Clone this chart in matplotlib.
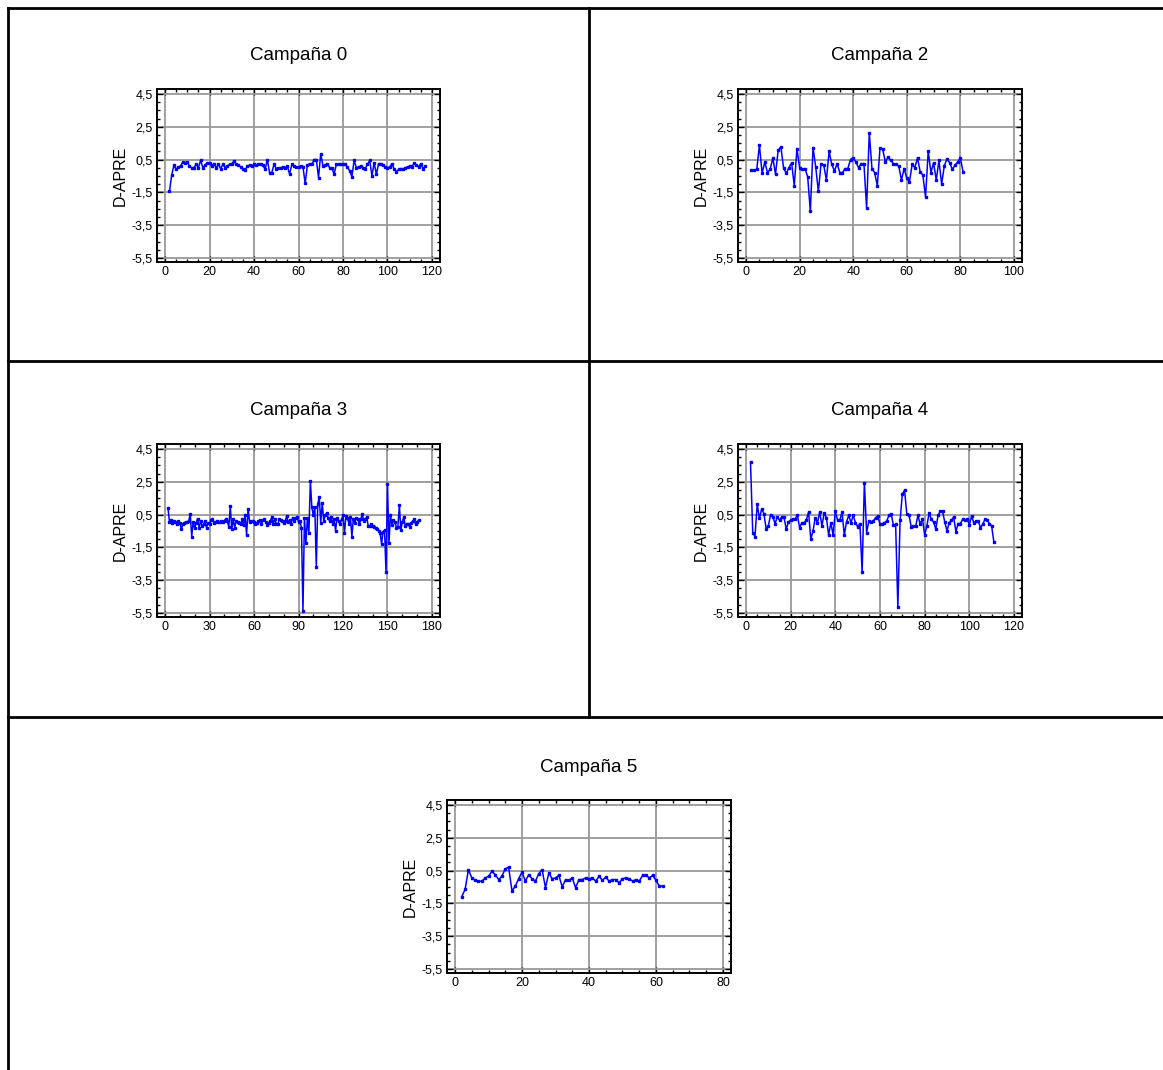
import numpy as np
import matplotlib
matplotlib.use("Agg")
import matplotlib.pyplot as plt
from matplotlib.lines import Line2D
from matplotlib.ticker import MultipleLocator, FixedLocator, FuncFormatter

plt.rcParams['font.family'] = ['Liberation Sans', 'DejaVu Sans']

# ---------------- data ----------------
titles = ["Campaña 0", "Campaña 2", "Campaña 3", "Campaña 4", "Campaña 5"]
ylabel = "D-APRE"
yticks = [-5.5, -3.5, -1.5, 0.5, 2.5, 4.5]

x_start = 2

camp0 = [-1.45, -0.45, 0.15, -0.1, 0.05, 0.1, 0.35, 0.3, 0.35, 0.1,
         0.0, 0.0, 0.2, 0.0, 0.45, 0.0, 0.15, 0.3, 0.3, 0.1,
         0.25, 0.0, 0.2, -0.05, 0.2, 0.0, 0.1, 0.2, 0.25, 0.4,
         0.2, 0.15, 0.05, -0.1, -0.15, 0.1, 0.15, 0.1, 0.2, 0.15,
         0.2, 0.25, 0.15, -0.1, 0.5, -0.3, -0.3, 0.2, -0.05, 0.0,
         0.0, 0.05, 0.0, 0.1, -0.4, 0.2, 0.1, 0.05, 0.05, 0.1,
         0.05, -0.95, 0.15, 0.25, 0.2, 0.5, 0.5, -0.6, 0.85, 0.1,
         0.15, 0.25, 0.0, 0.0, -0.4, 0.2, 0.2, 0.2, 0.2, 0.2,
         0.05, -0.2, -0.55, 0.45, 0.0, 0.05, 0.1, 0.0, -0.05, 0.2,
         0.45, -0.5, 0.3, -0.4, 0.25, 0.25, 0.15, 0.05, 0.0, 0.05,
         0.25, -0.1, -0.25, -0.1, -0.05, -0.1, 0.0, 0.05, 0.1, 0.05,
         0.3, 0.15, 0.05, 0.25, -0.05, 0.1]

camp2 = [-0.15, -0.15, -0.1, 1.38, -0.35, 0.35, -0.3, -0.1, 0.6, -0.4,
         1.07, 1.27, 0.0, -0.35, 0.0, 0.3, -1.1, 1.15, 0.0, -0.1,
         -0.05, -0.55, -2.65, 1.23, 0.05, -1.45, 0.25, 0.15, -0.75, 1.0,
         0.2, -0.2, 0.25, -0.3, -0.3, -0.05, -0.05, 0.5, 0.6, 0.35,
         0.0, 0.25, 0.25, -2.45, 2.13, -0.05, -0.3, -1.1, 1.2, 1.13,
         0.35, 0.65, 0.45, 0.25, 0.2, 0.1, -0.75, -0.05, -0.65, -0.85,
         0.2, 0.0, 0.6, -0.25, -0.45, -1.8, 1.03, -0.3, 0.3, -0.75,
         0.45, -1.0, 0.1, 0.55, 0.3, -0.1, 0.15, 0.35, 0.6, -0.25]

camp3 = [0.9, 0.05, 0.15, 0.0, 0.1, 0.05, -0.05, 0.1, 0.0, -0.4,
         -0.1, 0.0, 0.05, 0.05, 0.1, 0.55, -0.85, 0.05, -0.35, 0.0,
         0.25, -0.3, 0.1, -0.2, -0.1, 0.1, -0.3, 0.0, -0.1, 0.15,
         0.25, 0.0, 0.05, 0.1, 0.05, 0.05, 0.1, 0.05, 0.1, 0.25,
         0.1, -0.25, 1.0, -0.4, 0.2, -0.3, 0.1, 0.05, 0.0, -0.1,
         0.2, -0.15, 0.45, -0.75, 0.85, 0.05, 0.1, 0.1, 0.05, -0.1,
         0.0, 0.1, 0.15, -0.05, 0.15, 0.2, 0.05, -0.15, 0.0, 0.1,
         0.35, -0.1, 0.25, -0.1, -0.1, 0.2, 0.15, 0.1, 0.0, 0.1,
         0.4, 0.05, 0.15, -0.05, 0.3, 0.1, 0.3, 0.35, 0.05, 0.1,
         -0.3, -5.4, 0.3, -1.25, 0.3, -0.65, 2.55, 0.95, 0.45, 0.95,
         -2.7, 1.15, 1.55, 0.0, 1.2, 0.1, 0.45, 0.6, 0.3, 0.1,
         0.35, -0.05, 0.25, -0.5, 0.3, 0.1, -0.1, 0.2, 0.45, -0.6,
         0.4, 0.3, -0.05, 0.35, -0.85, 0.25, 0.0, 0.3, 0.25, -0.1,
         0.2, 0.55, 0.1, 0.2, 0.35, -0.2, -0.2, -0.1, -0.2, -0.25,
         -0.3, -0.4, -0.5, -0.6, -1.3, -0.55, -0.45, -3.0, 2.35, -1.25,
         0.5, -0.15, 0.15, 0.05, -0.3, -0.25, 1.05, -0.45, 0.05, 0.35,
         -0.2, -0.05, -0.1, -0.25, 0.0, 0.1, 0.2, -0.1, 0.05, 0.15]

camp4 = [3.7, -0.6, -0.85, 1.12, 0.26, 0.83, 0.56, -0.36, -0.2, 0.5,
         0.35, -0.05, 0.35, 0.15, 0.35, 0.35, -0.4, 0.05, 0.15, 0.2,
         0.25, 0.45, -0.3, 0.0, 0.0, 0.15, 0.65, -1.0, -0.5, 0.3,
         0.0, 0.65, -0.2, 0.6, 0.3, -0.75, 0.0, -0.75, 0.7, 0.15,
         0.15, 0.65, -0.75, 0.05, 0.45, 0.0, 0.45, 0.0, -0.25, -0.05,
         -3.0, 2.45, -0.6, 0.1, 0.05, 0.1, 0.3, 0.4, -0.1, -0.1,
         0.0, 0.1, 0.45, 0.55, -0.15, -0.1, -5.15, 0.15, 1.75, 1.98,
         0.55, 0.45, -0.25, -0.2, -0.2, 0.45, -0.1, 0.25, -0.75, -0.2,
         0.6, 0.2, 0.05, -0.4, 0.45, 0.7, 0.7, 0.05, -0.5, 0.0,
         0.15, 0.35, -0.55, -0.05, -0.05, 0.2, 0.15, 0.25, -0.15, 0.4,
         0.0, 0.1, 0.1, -0.3, -0.1, 0.2, 0.15, -0.05, -0.2, -1.17]

camp5 = [-1.1, -0.65, 0.55, 0.05, -0.1, -0.15, -0.15, 0.05, 0.15, 0.45,
         0.25, -0.05, 0.15, 0.6, 0.7, -0.75, -0.45, 0.0, 0.4, -0.15,
         0.25, 0.0, -0.15, 0.3, 0.55, -0.55, 0.35, 0.0, 0.05, 0.2,
         -0.5, -0.05, -0.1, 0.05, -0.55, -0.05, -0.05, 0.05, 0.0, 0.05,
         -0.15, 0.15, -0.1, 0.1, -0.15, -0.05, -0.05, -0.25, 0.0, 0.05,
         0.0, -0.15, -0.05, -0.15, 0.2, 0.2, 0.05, 0.2, -0.1, -0.45, -0.45]

series = [camp0, camp2, camp3, camp4, camp5]
x_max = [120, 100, 180, 120, 80]
x_major = [20, 20, 30, 20, 20]
x_minor = [5, 5, 10, 5, 5]

# ---------------- layout (pixels) ----------------
W, H = 1163, 1070
fig = plt.figure(figsize=(W / 100, H / 100), dpi=100)

boxes = [(157, 89, 440, 262), (738, 89, 1022, 262),
         (157, 444, 440, 617), (738, 444, 1022, 617),
         (447, 800, 731, 973)]
title_y = [56, 56, 411, 411, 767]


def fx(px):
    return px / W


def fy(py):
    return 1 - py / H


for i, (x0, y0, x1, y1) in enumerate(boxes):
    ax = fig.add_axes([fx(x0), fy(y1), fx(x1) - fx(x0), fy(y0) - fy(y1)])
    y = series[i]
    x = np.arange(x_start, x_start + len(y))
    ax.plot(x, y, color='#0000FF', lw=1.1, marker='s', ms=1.8,
            mec='#0000FF', mfc='#0000FF', zorder=3)
    xm = x_max[i]
    ax.set_xlim(-0.03 * xm, 1.03 * xm)
    ax.set_ylim(-5.75, 4.8)
    ax.xaxis.set_major_locator(MultipleLocator(x_major[i]))
    ax.xaxis.set_minor_locator(MultipleLocator(x_minor[i]))
    ax.yaxis.set_major_locator(FixedLocator(yticks))
    ax.yaxis.set_minor_locator(MultipleLocator(0.5))
    ax.yaxis.set_major_formatter(FuncFormatter(lambda v, p: f"{v:.1f}".replace('.', ',')))
    ax.grid(True, which='major', color='#999999', lw=1.3, zorder=1)
    ax.tick_params(which='both', direction='in', top=True, right=True,
                   labelsize=9, color='black', width=1.0)
    ax.tick_params(which='major', length=4, pad=3)
    ax.tick_params(which='minor', length=2.5)
    for sp in ax.spines.values():
        sp.set_linewidth(1.4)
        sp.set_color('black')
    ax.set_ylabel(ylabel, fontsize=11.5, labelpad=3)
    fig.text(fx((x0 + x1) / 2), fy(title_y[i]), titles[i], ha='center',
             va='center', fontsize=13.5)

# table lines
lw = 2
lines = [((8, 8), (8, 1070)),
         ((8, 1163), (8, 8)),
         ((589, 589), (8, 717)),
         ((8, 1163), (361, 361)),
         ((8, 1163), (717, 717))]
for xs, ys in lines:
    fig.add_artist(Line2D([fx(v) for v in xs], [fy(v) for v in ys],
                          color='black', lw=lw))

fig.savefig("out.png", dpi=100)
